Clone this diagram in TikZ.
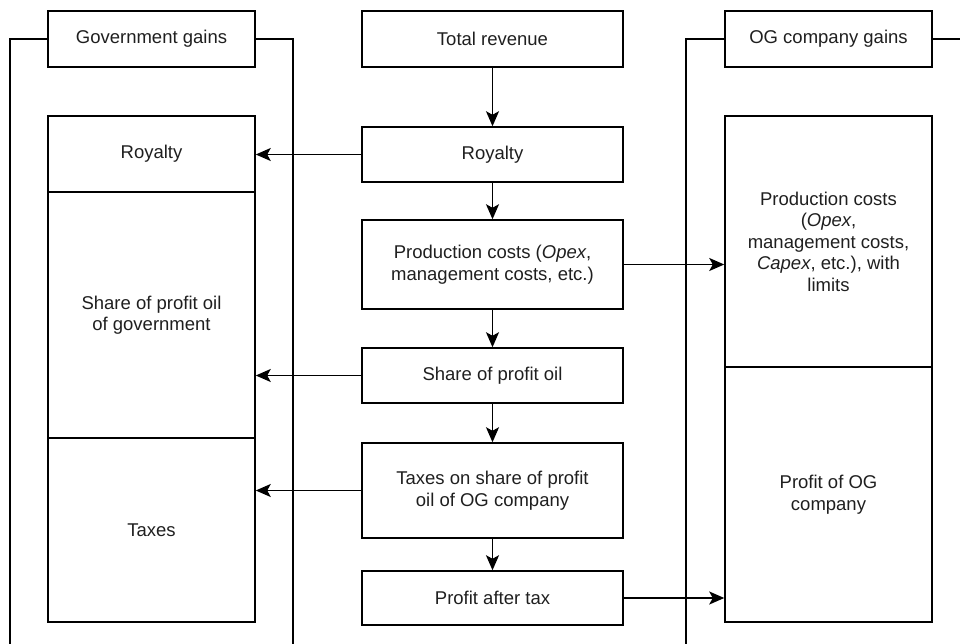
\documentclass[tikz,border=0pt]{standalone}
\usepackage{fontspec}
\setmainfont{Liberation Sans}
\usetikzlibrary{arrows.meta}
\begin{document}
\begin{tikzpicture}[x=1pt,y=-1pt,
  box/.style={draw, line width=1.5pt, rectangle, inner sep=0pt, align=center,
    font=\fontsize{18.5}{21.5}\selectfont, text=black!88},
  cbox/.style={box, minimum width=261pt},
  sbox/.style={box, minimum width=207pt},
  flow/.style={line width=1.5pt, -{Stealth[length=15pt,width=13pt,inset=3.5pt]}},
  frame/.style={line width=1.5pt}]
\useasboundingbox (0,0) rectangle (960,644);
% center column
\node[cbox, minimum height=56pt] (total) at (492.5,39) {Total revenue};
\node[cbox, minimum height=55pt] (roy) at (492.5,154.5) {Royalty};
\node[cbox, minimum height=89pt] (prod) at (492.5,264.5) {Production costs (\textit{Opex},\\management costs, etc.)};
\node[cbox, minimum height=55pt] (share) at (492.5,375.5) {Share of profit oil};
\node[cbox, minimum height=95pt] (taxes) at (492.5,490.5) {Taxes on share of profit\\oil of OG company};
\node[cbox, minimum height=54pt] (pat) at (492.5,598) {Profit after tax};
% left column
\node[sbox, minimum height=56pt] (gg) at (151.5,39) {Government gains};
\node[sbox, minimum height=76pt] (lroy) at (151.5,154) {Royalty};
\node[sbox, minimum height=246pt] (lshare) at (151.5,315) {Share of profit oil\\of government};
\node[sbox, minimum height=184pt] (ltax) at (151.5,530) {Taxes};
% right column
\node[sbox, minimum height=56pt] (og) at (828.5,39) {OG company gains};
\node[sbox, minimum height=251pt] (rprod) at (828.5,241.5) {Production costs\\(\textit{Opex},\\management costs,\\\textit{Capex}, etc.), with\\limits};
\node[sbox, minimum height=255pt] (rprofit) at (828.5,494.5) {Profit of OG\\company};
% frames
\coordinate (lfl) at (10,644);
\coordinate (lfr) at (293,644);
\coordinate (rfl) at (686,644);
\coordinate (rfr) at (960,39);
\draw[frame] (gg.west) -| (lfl);
\draw[frame] (gg.east) -| (lfr);
\draw[frame] (og.west) -| (rfl);
\draw[frame] (og.east) -- (rfr);
% vertical flow
\draw[flow] (total) -- (roy);
\draw[flow] (roy) -- (prod);
\draw[flow] (prod) -- (share);
\draw[flow] (share) -- (taxes);
\draw[flow] (taxes) -- (pat);
% horizontal flow
\draw[flow] (roy.west) -- (roy.west -| lroy.east);
\draw[flow] (share.west) -- (share.west -| lshare.east);
\draw[flow] (taxes.west) -- (taxes.west -| ltax.east);
\draw[flow] (prod.east) -- (prod.east -| rprod.west);
\draw[flow] (pat.east) -- (pat.east -| rprofit.west);
\end{tikzpicture}
\end{document}
